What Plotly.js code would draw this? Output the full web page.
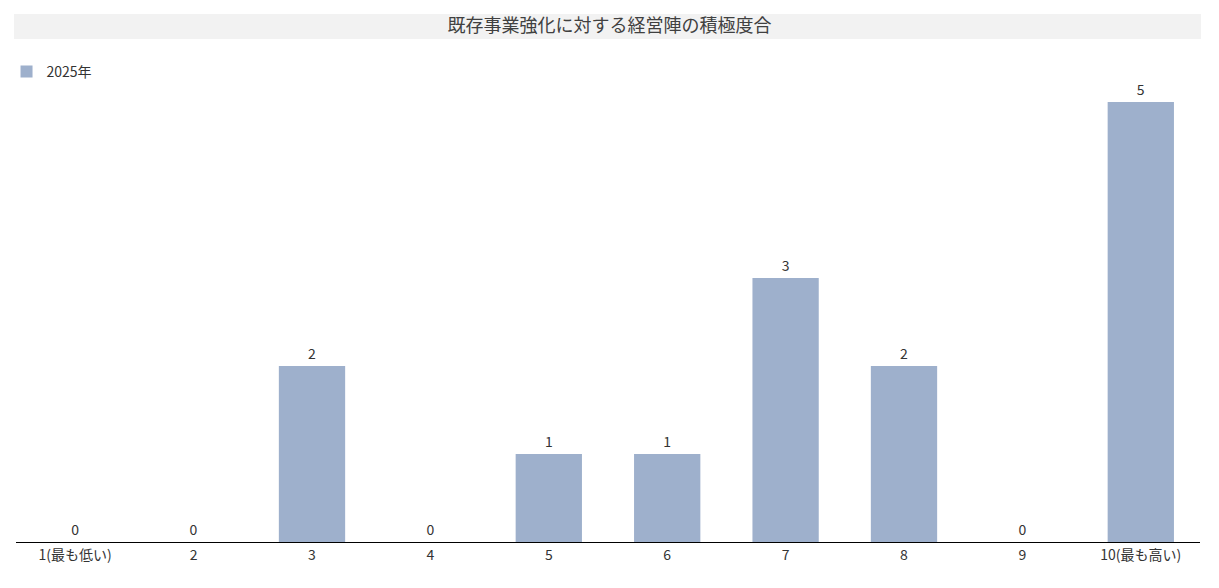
<!DOCTYPE html>
<html>
<head>
<meta charset="utf-8">
<script src="https://cdn.plot.ly/plotly-3.0.1.min.js"></script>
<style>
  html, body { margin: 0; padding: 0; background: #fff; }
  #chart { width: 1219px; height: 588px; }
</style>
</head>
<body>
<div id="chart"></div>
<script>
var graphDiv = document.getElementById('chart');

// 評価スコア (1〜10) と回答数
var categories = ['1(最も低い)', '2', '3', '4', '5', '6', '7', '8', '9', '10(最も高い)'];
var counts2025 = [0, 0, 2, 0, 1, 1, 3, 2, 0, 5];
var seriesName = '2025年';
var chartTitle = '既存事業強化に対する経営陣の積極度合';

var fontFamily = '"Noto Sans CJK JP", "Noto Sans", sans-serif';

var data = [
    {
        x: categories,
        y: counts2025,
        name: seriesName,
        type: 'bar',
        marker: {color: '#9eb0cc'},
        text: counts2025.map(String),
        textposition: 'outside',
        textfont: {size: 14, color: '#333'},
        cliponaxis: false,
        hoverinfo: 'x+y'
    }
];

var layout = {
    width: 1219,
    height: 588,
    margin: {l: 16, r: 19, t: 60, b: 46, autoexpand: false},
    paper_bgcolor: '#fff',
    plot_bgcolor: '#fff',
    font: {family: fontFamily, color: '#333', size: 14},
    bargap: 0.44,
    showlegend: true,
    title: {
        text: chartTitle,
        font: {size: 18, color: '#404040', family: fontFamily},
        x: 0.5, xanchor: 'center',
        y: 1 - 26 / 588, yanchor: 'middle'
    },
    legend: {
        orientation: 'h',
        x: -0.008, xanchor: 'left',
        y: (542 - 72) / 482, yanchor: 'middle',
        font: {size: 14, color: '#333'},
        bgcolor: 'rgba(0,0,0,0)'
    },
    xaxis: {
        type: 'category',
        showline: true,
        linecolor: '#000',
        linewidth: 1,
        ticks: '',
        showgrid: false,
        automargin: false,
        tickfont: {size: 14, color: '#333'}
    },
    yaxis: {
        range: [0, 482 / 88],
        showgrid: false,
        zeroline: false,
        showticklabels: false,
        ticks: '',
        automargin: false,
        fixedrange: true
    },
    shapes: [
        {
            type: 'rect', xref: 'paper', yref: 'paper',
            x0: -0.0017, x1: 1.0008,
            y0: (542 - 39) / 482, y1: (542 - 14) / 482,
            fillcolor: '#f2f2f2', line: {width: 0}, layer: 'below'
        }
    ]
};

Plotly.newPlot(graphDiv, data, layout, {displayModeBar: false, staticPlot: true});
</script>
</body>
</html>
